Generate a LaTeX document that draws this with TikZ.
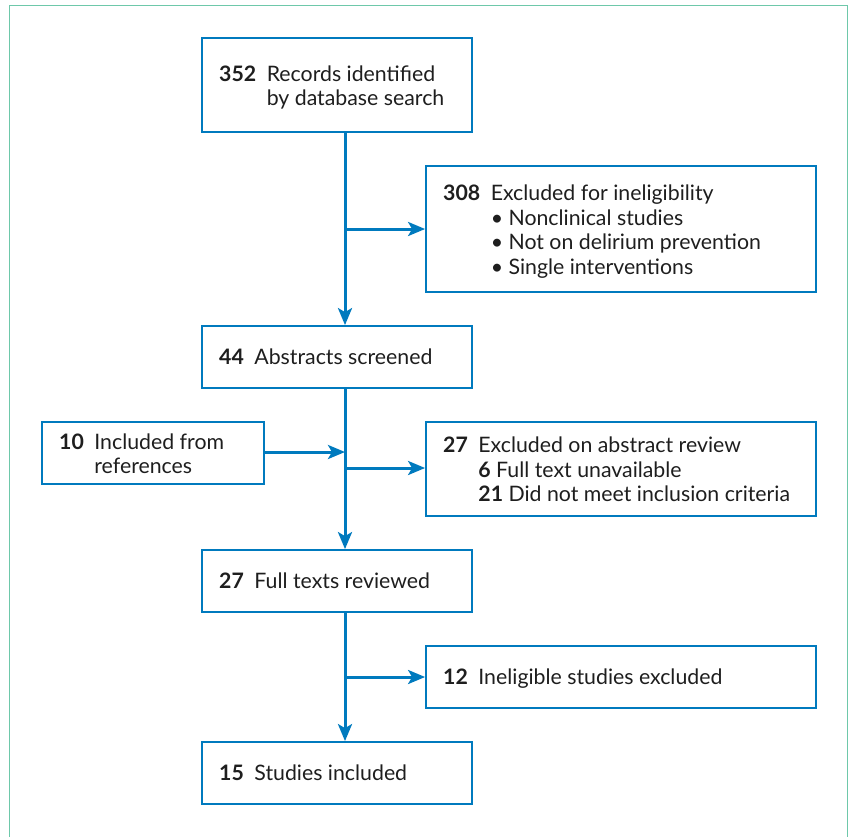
\documentclass[tikz,border=0pt]{standalone}
\usepackage{fontspec}
\setmainfont{Lato}
\usetikzlibrary{arrows.meta}
\definecolor{boxblue}{RGB}{0,122,190}
\definecolor{frameteal}{RGB}{110,200,170}
\definecolor{txt}{RGB}{30,30,30}
\tikzset{
  stagebox/.style={draw=boxblue, line width=1.8pt, minimum width=270pt, minimum height=62pt, inner sep=0pt},
  sidebox/.style={draw=boxblue, line width=1.8pt, minimum width=390pt, minimum height=62pt, inner sep=0pt},
  label/.style={anchor=west, inner sep=0pt, yshift=-2.5pt, text=txt, font=\fontsize{21.3pt}{24.5pt}\selectfont, align=left},
  flow/.style={draw=boxblue, line width=3pt, -{Stealth[length=17pt,width=14pt,inset=4pt]}}
}
\newcommand{\numtab}[1]{\begin{tabular}{@{}l@{\hspace{10.5pt}}l@{}}#1\end{tabular}}
\begin{document}
\begin{tikzpicture}[x=1pt,y=-1pt]
\useasboundingbox (0,0) rectangle (850,836);
\draw[frameteal, line width=1.5pt] (9.5,840) -- (9.5,5.5) -- (847.5,5.5) -- (847.5,840);

\node[stagebox, minimum height=94pt] (b1) at (337,85) {};
\node[sidebox, minimum height=126pt] (b2) at (621,229) {};
\node[stagebox] (b3) at (337,357) {};
\node[stagebox, minimum width=222pt] (b4) at (153,453) {};
\node[sidebox, minimum height=94pt] (b5) at (621,469) {};
\node[stagebox] (b6) at (337,581) {};
\node[sidebox] (b7) at (621,677) {};
\node[stagebox] (b8) at (337,773) {};

\renewcommand{\arraystretch}{1}
\node[label] (t1) at (219,86) {\numtab{\textbf{352} & Records identified\\ & by database search}};
\node[label] (t2) at (443,230) {\numtab{\textbf{308} & Excluded for ineligibility\\ & • Nonclinical studies\\ & • Not on delirium prevention\\ & • Single interventions}};
\node[label] (t3) at (219,357) {\numtab{\textbf{44} & Abstracts screened}};
\node[label] (t4) at (59,454) {\numtab{\textbf{10} & Included from\\ & references}};
\node[label] (t5) at (443,470) {\numtab{\textbf{27} & Excluded on abstract review\\ & \textbf{6} Full text unavailable\\ & \textbf{21} Did not meet inclusion criteria}};
\node[label] (t6) at (219,581) {\numtab{\textbf{27} & Full texts reviewed}};
\node[label] (t7) at (443,677) {\numtab{\textbf{12} & Ineligible studies excluded}};
\node[label] (t8) at (219,773) {\numtab{\textbf{15} & Studies included}};

\coordinate (spine) at (345,0);
\coordinate (j1) at (345,229);
\coordinate (j2) at (345,452);
\coordinate (j3) at (345,468);
\coordinate (j4) at (345,677);

\draw[flow] (b1.south -| spine) -- (b3.north -| spine);
\draw[flow] (j1) -- (j1 -| b2.west);
\draw[flow] (b3.south -| spine) -- (b6.north -| spine);
\draw[flow] (j2 -| b4.east) -- (j2);
\draw[flow] (j3) -- (j3 -| b5.west);
\draw[flow] (b6.south -| spine) -- (b8.north -| spine);
\draw[flow] (j4) -- (j4 -| b7.west);
\end{tikzpicture}
\end{document}
